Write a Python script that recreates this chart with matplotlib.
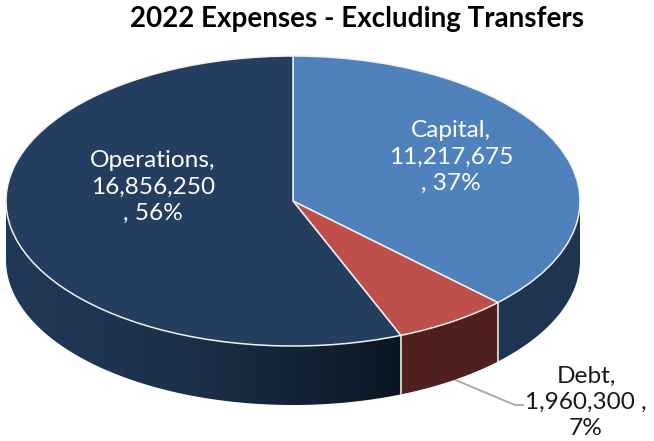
import numpy as np
import matplotlib
matplotlib.use("Agg")
import matplotlib.pyplot as plt
from matplotlib.colors import LinearSegmentedColormap
from matplotlib.patches import Polygon

categories = ["Capital", "Debt", "Operations"]
values = [11217675, 1960300, 16856250]
value_labels = ["11,217,675", "1,960,300", "16,856,250"]
percents = [37, 7, 56]
top_colors = ["#4f81bd", "#bf4f4b", "#243e60"]
wall_colors = ["#1e3552", "#4f201e", "#1f3552"]

W, H = 654, 441
CX, CY, RX, RY = 293.0, 201.0, 287.0, 145.0
DEPTH = 59.0 / RY


def to_data(px, py):
    return (px - CX) / RX, (CY - py) / RY


def wall(a1, a2):
    # side wall below the top face, angles in degrees counterclockwise
    t = np.radians(np.linspace(a1, a2, 200))
    x = np.cos(t)
    y = np.sin(t)
    return np.column_stack([np.r_[x, x[::-1]], np.r_[y, y[::-1] - DEPTH]])


plt.rcParams["font.family"] = ["Lato", "DejaVu Sans"]
fig = plt.figure(figsize=(W / 100, H / 100), dpi=100)
ax = fig.add_axes([0, 0, 1, 1])

# angles of the slice borders, clockwise from the top
frac = np.cumsum(values) / np.sum(values)
a_capital = 90 - 360 * frac[0]
a_debt = 90 - 360 * frac[1]

# walls
ax.add_patch(Polygon(wall(0, a_capital), fc=wall_colors[0], ec="none", zorder=1))
ax.add_patch(Polygon(wall(a_capital, a_debt), fc=wall_colors[1], ec="none", zorder=1))
ops = Polygon(wall(a_debt, -180), fc="none", ec="none", zorder=1)
ax.add_patch(ops)
cmap = LinearSegmentedColormap.from_list("ops", ["#213959", "#1c2f47", "#0a1623"])
img = ax.imshow(np.linspace(0, 1, 256)[None, :], extent=(-1, np.cos(np.radians(a_debt)), -2, 1),
                cmap=cmap, aspect="auto", zorder=1)
img.set_clip_path(ops)

# borders between wall pieces
for a in [a_capital, a_debt]:
    x, y = np.cos(np.radians(a)), np.sin(np.radians(a))
    ax.plot([x, x], [y, y - DEPTH], color="#e4e4e4", lw=1.2, zorder=2)

# top face
ax.pie(values, colors=top_colors, startangle=90, counterclock=False, radius=1,
       wedgeprops=dict(edgecolor="#f2f2f2", linewidth=1.1, zorder=3))

ax.set_aspect("auto")
x0, y0 = to_data(0, H)
x1, y1 = to_data(W, 0)
ax.set_xlim(x0, x1)
ax.set_ylim(y0, y1)
ax.axis("off")

# leader line for the debt label
lx, ly = zip(to_data(453, 379), to_data(515, 405), to_data(523, 405))
ax.plot(lx, ly, color="#a6a6a6", lw=1.3, zorder=0.5)


def label(px, py, lines, color):
    x, y = to_data(px, py)
    ax.text(x, y, lines, ha="center", va="center", color=color, fontsize=17.6,
            linespacing=1.3, zorder=5)


label(451, 157, f"{categories[0]},\n{value_labels[0]}\n, {percents[0]}%", "white")
label(153, 187, f"{categories[2]},\n{value_labels[2]}\n, {percents[2]}%", "white")
label(586, 402, f"{categories[1]},\n{value_labels[1]} ,\n{percents[1]}%", "#1a1a1a")

tx, ty = to_data(357, 19)
ax.text(tx, ty, "2022 Expenses - Excluding Transfers", ha="center", va="center",
        fontsize=20, fontweight="bold", color="black", zorder=5)

fig.savefig("out.png", dpi=100, facecolor="white")
plt.close("all")
